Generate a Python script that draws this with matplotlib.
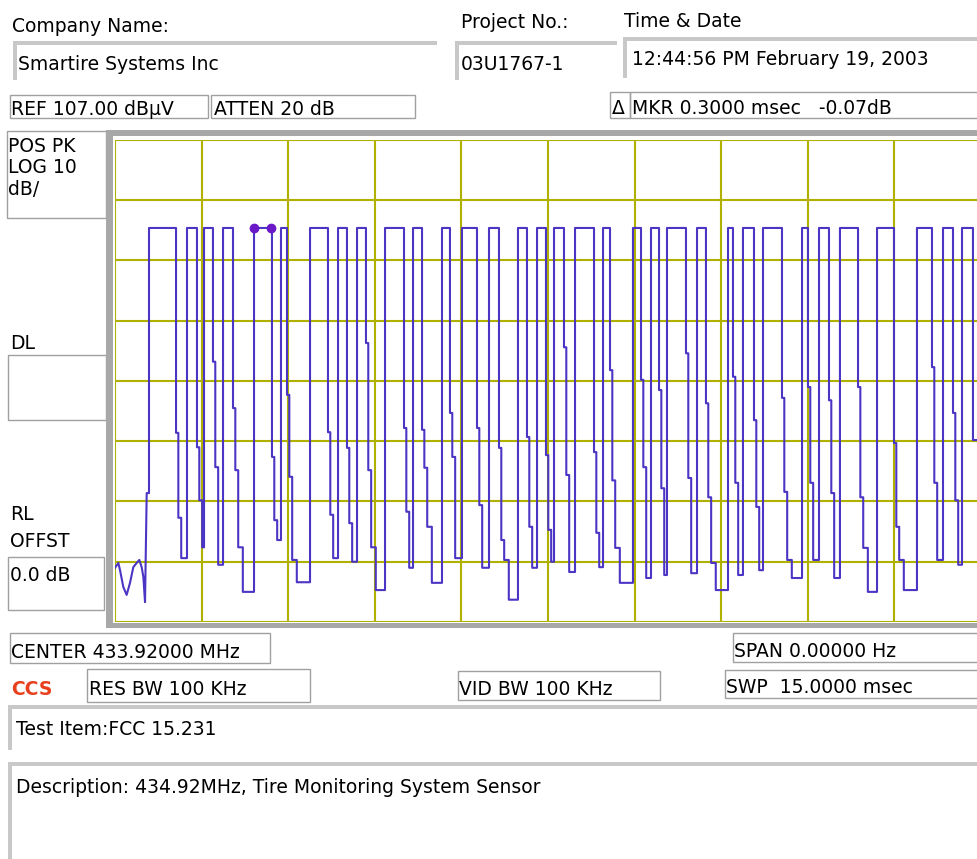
import numpy as np
import matplotlib.pyplot as plt
from matplotlib.patches import Rectangle

# ---- trace (time in msec, level in dBuV) ----
ref_level = 107.0
db_per_div = 10
n_ydiv = 8
sweep_ms = 15.0
high_db = 92.4

# noise before the first burst
lead_ms = [0.0, 0.058, 0.087, 0.144, 0.202, 0.260, 0.317, 0.375, 0.421, 0.462, 0.491, 0.520, 0.549]
lead_db = [36.0, 36.8, 35.6, 32.8, 31.5, 33.5, 36.1, 36.8, 37.3, 36.1, 34.5, 30.3, 48.4]

# pulse edges
rise_ms = [0.589, 1.247, 1.542, 1.871, 2.408, 2.875, 3.378, 3.863, 4.192, 4.677, 5.162,
           5.664, 6.010, 6.478, 6.980, 7.310, 7.604, 7.968, 8.453, 8.972, 9.284, 9.561,
           10.081, 10.618, 10.877, 11.224, 11.900, 12.194, 12.557, 13.199, 13.891, 14.342, 14.671]
fall_ms = [1.057, 1.420, 1.697, 2.044, 2.719, 2.979, 3.689, 4.018, 4.347, 5.006, 5.318,
           5.802, 6.270, 6.651, 7.136, 7.465, 7.777, 8.297, 8.574, 9.111, 9.423, 9.890,
           10.236, 10.704, 11.068, 11.553, 12.003, 12.367, 12.870, 13.493, 14.151, 14.515, 14.861]
# steps on the falling edges
knee1_db = [58.4, 56.0, 70.2, 62.5, 54.4, 64.7, 58.5, 55.9, 73.3, 59.2, 58.9,
            61.7, 59.2, 55.9, 57.7, 54.7, 72.6, 55.2, 68.8, 67.2, 65.5, 71.6,
            63.3, 67.7, 60.5, 64.2, 66.0, 63.8, 66.0, 56.7, 69.3, 61.7, 57.2]
knee2_db = [44.3, 47.2, 52.7, 52.2, 43.9, 51.1, 44.8, 43.4, 52.2, 45.3, 52.6,
            54.4, 46.4, 40.6, 42.8, 42.3, 51.4, 41.8, 50.5, 52.7, 49.2, 50.9,
            47.7, 50.1, 46.1, 48.6, 50.1, 48.4, 47.7, 42.8, 50.1, 47.2, 57.2]
knee3_db = [37.6, 39.4, 36.5, 39.4, 40.6, 37.3, 37.6, 37.0, 39.4, 36.0, 42.8,
            37.6, 36.0, 37.3, 36.0, 37.0, 35.3, 36.1, 39.3, 34.3, 34.8, 35.1,
            36.8, 34.8, 35.6, 37.3, 37.3, 34.3, 39.3, 37.3, 37.3, 36.5, 57.2]
# bottom of the gap after each pulse
floor_db = [37.6, 39.4, 36.5, 32.0, 40.6, 33.6, 37.6, 37.0, 32.3, 36.0, 33.5,
            37.6, 36.0, 30.7, 36.0, 37.0, 35.3, 36.1, 33.5, 34.3, 34.8, 35.1,
            32.3, 34.8, 35.6, 34.3, 37.3, 34.3, 32.0, 32.3, 37.3, 36.5, 57.2]
knee_ms = [0.04, 0.09, 0.17]   # where each falling step ends, after the edge
marker_ms = [2.41, 2.71]

# ---- build the step trace ----
tx = list(lead_ms)
ty = list(lead_db)
next_rise = rise_ms[1:] + [sweep_ms]
for i, (r, f) in enumerate(zip(rise_ms, fall_ms)):
    tx += [r, r, f]
    ty += [ty[-1], high_db, high_db]
    levels = [knee1_db[i], knee2_db[i], knee3_db[i], floor_db[i]]
    starts = [f] + [f + k for k in knee_ms]
    for t0, lv in zip(starts, levels):
        if t0 >= next_rise[i]:
            break
        tx += [t0, t0]
        ty += [ty[-1], lv]
tx.append(sweep_ms)
ty.append(ty[-1])

FS = 13.5
plt.rcParams['font.family'] = 'DejaVu Sans'

fig = plt.figure(figsize=(9.77, 8.59), dpi=100)
fig.patch.set_facecolor('white')

# form layer in pixel coordinates
bg = fig.add_axes([0, 0, 1, 1])
bg.set_xlim(0, 977)
bg.set_ylim(859, 0)
bg.axis('off')


def txt(x, y, s, **kw):
    bg.text(x, y, s, ha='left', va='baseline', fontsize=kw.pop('fs', FS), **kw)


def box(x0, y0, x1, y1):
    bg.add_patch(Rectangle((x0, y0), x1 - x0, y1 - y0, fill=False, ec='#a0a0a0', lw=1.0))


def sunken(x0, y0, x1, y1):
    bg.add_patch(Rectangle((x0, y0), x1 - x0, 4, fc='#c8c8c8', ec='none'))
    bg.add_patch(Rectangle((x0, y0), 4, y1 - y0, fc='#c8c8c8', ec='none'))


# header
txt(12, 32, 'Company Name:')
txt(461, 28, 'Project No.:')
txt(624, 27, 'Time & Date')
sunken(13, 41, 437, 80)
sunken(455, 41, 617, 80)
sunken(623, 37, 990, 78)
txt(18, 70, 'Smartire Systems Inc')
txt(461, 70, '03U1767-1')
txt(632, 65, '12:44:56 PM February 19, 2003')

box(10, 95, 208, 118)
box(211, 95, 415, 118)
box(610, 92, 630, 118)
box(630, 92, 990, 118)
txt(11, 115, 'REF 107.00 dBµV')
txt(214, 115, 'ATTEN 20 dB')
txt(612, 114, 'Δ')
txt(632, 114, 'MKR 0.3000 msec   -0.07dB')

# left panel
box(7, 131, 106, 218)
txt(8, 152, 'POS PK')
txt(8, 173, 'LOG 10')
txt(8, 195, 'dB/')
txt(10, 349, 'DL')
box(8, 355, 106, 420)
txt(10, 520, 'RL')
txt(10, 547, 'OFFST')
box(8, 557, 104, 610)
txt(10, 581, '0.0 dB')

# plot frame
bg.add_patch(Rectangle((106, 130), 900, 498, fc='#a8a8a8', ec='none'))
bg.add_patch(Rectangle((113, 136), 900, 487, fc='white', ec='none'))

# footer
box(10, 633, 270, 663)
txt(11, 658, 'CENTER 433.92000 MHz')
box(733, 633, 990, 662)
txt(734, 657, 'SPAN 0.00000 Hz')
txt(11, 695, 'CCS', color='#e8401c', fontweight='bold')
box(87, 669, 310, 702)
txt(89, 695, 'RES BW 100 KHz')
box(458, 671, 660, 700)
txt(459, 695, 'VID BW 100 KHz')
box(725, 670, 990, 698)
txt(726, 693, 'SWP  15.0000 msec')
sunken(8, 705, 990, 750)
txt(16, 735, 'Test Item:FCC 15.231')
sunken(8, 762, 990, 870)
txt(16, 793, 'Description: 434.92MHz, Tire Monitoring System Sensor')

# analyzer screen
ax = fig.add_axes([115 / 977, 1 - 622 / 859, 866 / 977, 482 / 859])
ax.set_facecolor('white')
ax.set_xlim(0, sweep_ms)
ax.set_ylim(ref_level - n_ydiv * db_per_div, ref_level)
ax.set_xticks(np.arange(0, sweep_ms + 0.01, sweep_ms / 10))
ax.set_yticks(np.arange(ref_level - n_ydiv * db_per_div, ref_level + 0.1, db_per_div))
ax.grid(True, color='#b0b000', lw=1.5)
ax.tick_params(length=0, labelbottom=False, labelleft=False)
for s in ax.spines.values():
    s.set_visible(False)

ax.plot(tx, ty, color='#4a35c4', lw=1.5, zorder=3)
ax.plot(marker_ms, [high_db, high_db], 'o', color='#6a18c8', ms=6, zorder=4)

fig.savefig('out.png', dpi=100)
